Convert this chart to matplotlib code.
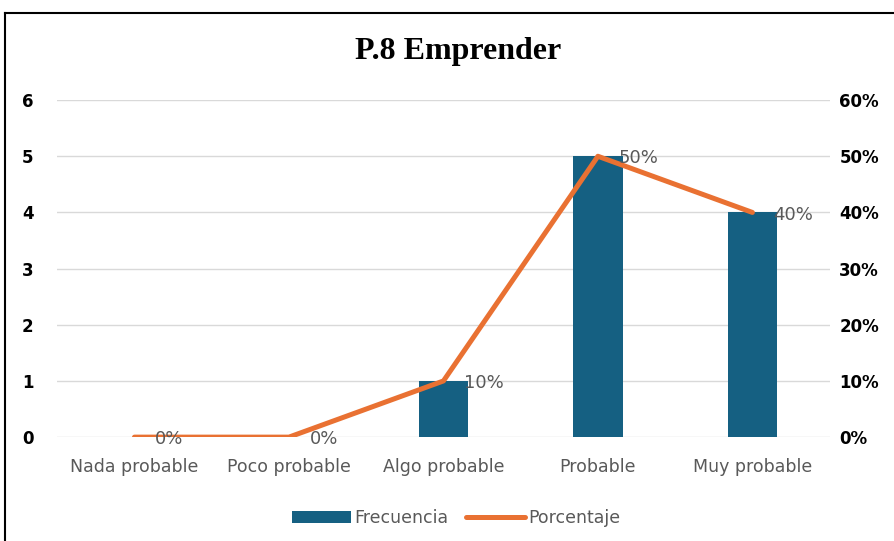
import matplotlib.pyplot as plt
from matplotlib.lines import Line2D
import numpy as np

# datos del grafico
categorias = ['Nada probable', 'Poco probable', 'Algo probable', 'Probable', 'Muy probable']
frecuencia = [0, 0, 1, 5, 4]
porcentaje = [0.0, 0.0, 0.10, 0.50, 0.40]
etiquetas_pct = ['0%', '0%', '10%', '50%', '40%']

color_barra = '#156082'
color_linea = '#E97132'
gris = '#595959'

fig = plt.figure(figsize=(8.94, 5.41), dpi=100)
ax = fig.add_axes([0.064, 0.192, 0.864, 0.623])
ax2 = ax.twinx()

x = np.arange(len(categorias))
ax.bar(x, frecuencia, width=0.32, color=color_barra, label='Frecuencia', zorder=2)
ax2.plot(x, porcentaje, color=color_linea, linewidth=3.6, label='Porcentaje',
         solid_capstyle='round', solid_joinstyle='round', zorder=3)

for xi, p, t in zip(x, porcentaje, etiquetas_pct):
    ax2.annotate(t, (xi, p), xytext=(15, -1.5), textcoords='offset points',
                 ha='left', va='center', fontsize=13, color=gris)

ax.set_xlim(-0.5, 4.5)
ax.set_ylim(0, 6)
ax2.set_ylim(0, 0.6)
ax.set_yticks(range(7))
ax2.set_yticks(np.arange(0, 0.61, 0.1))
ax2.set_yticklabels(['0%', '10%', '20%', '30%', '40%', '50%', '60%'])

ax.grid(axis='y', color='#D9D9D9', linewidth=1, zorder=0)
ax.set_axisbelow(True)
for a in (ax, ax2):
    for s in a.spines.values():
        s.set_visible(False)
    a.tick_params(length=0)

ax.set_xticks(x)
ax.set_xticklabels(categorias, fontsize=12.5, color=gris)
ax.tick_params(axis='x', pad=15)
for lab in ax.get_yticklabels():
    lab.set_fontweight('bold')
    lab.set_fontsize(12)
ax.tick_params(axis='y', pad=17)
for lab in ax2.get_yticklabels():
    lab.set_fontweight('bold')
    lab.set_fontsize(12)
ax2.tick_params(axis='y', pad=7)

fig.text(0.512, 0.905, 'P.8 Emprender', ha='center', va='center',
         fontsize=23, fontweight='bold', family='Liberation Serif')

h1, l1 = ax.get_legend_handles_labels()
h2, l2 = ax2.get_legend_handles_labels()
fig.legend(h1 + h2, l1 + l2, loc='center', bbox_to_anchor=(0.51, 0.043), ncol=2,
           frameon=False, prop={'size': 12.5},
           labelcolor=gris, handlelength=3.4, handletextpad=0.2, columnspacing=1.0)

# borde del grafico
fig.add_artist(Line2D([5 / 894, 5 / 894], [0, 1 - 13 / 541], color='black', linewidth=1.5))
fig.add_artist(Line2D([5 / 894, 1], [1 - 13 / 541, 1 - 13 / 541], color='black', linewidth=1.5))

fig.savefig('out.png', dpi=100)
